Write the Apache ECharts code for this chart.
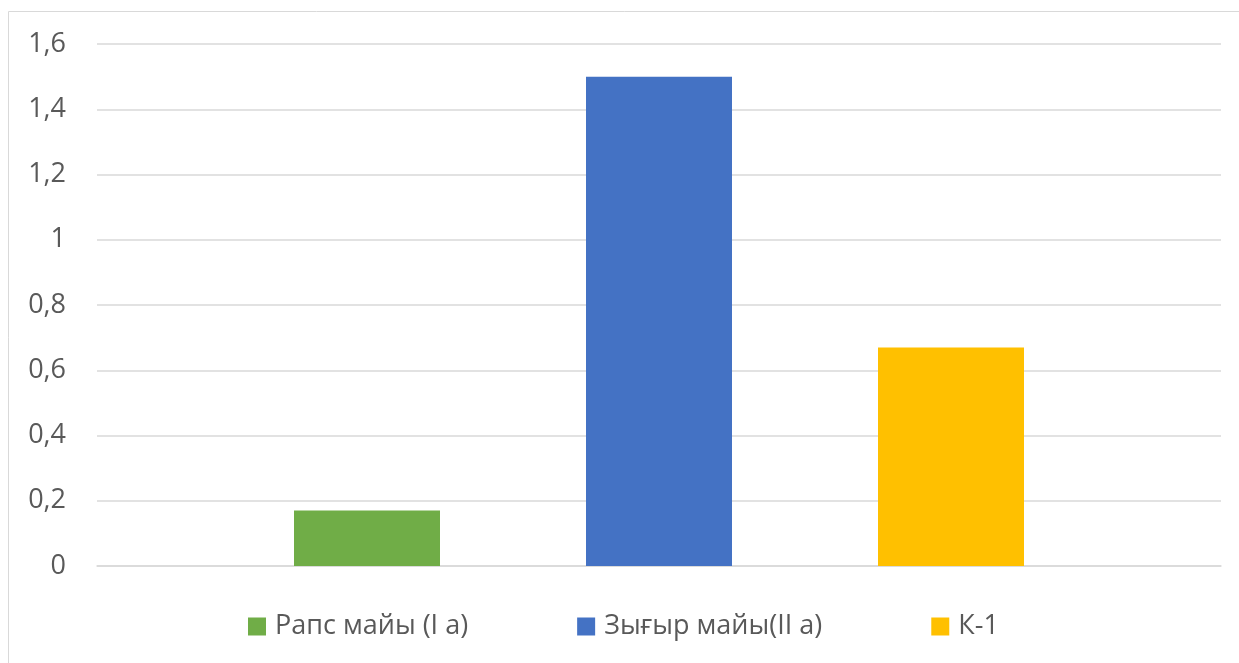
<!DOCTYPE html>
<html>
<head>
<meta charset="utf-8">
<script src="https://cdn.jsdelivr.net/npm/echarts@6/dist/echarts.min.js"></script>
<style>
  html, body { margin: 0; padding: 0; background: #fff; }
  #chart { width: 1239px; height: 663px; }
</style>
</head>
<body>
<div id="chart"></div>
<script>
  var seriesNames = ['Рапс майы (I а)', 'Зығыр майы(II а)', 'К-1'];
  var seriesValues = [0.17, 1.5, 0.67];
  var seriesColors = ['#70AD47', '#4472C4', '#FFC000'];
  var categories = [''];

  var chart = echarts.init(document.getElementById('chart'));

  var series = [];
  for (var i = 0; i < seriesNames.length; i++) {
    series.push({
      name: seriesNames[i],
      type: 'bar',
      data: [seriesValues[i]],
      barWidth: 146,
      barGap: '100%',
      itemStyle: { color: seriesColors[i] }
    });
  }

  chart.setOption({
    animation: false,
    textStyle: { fontFamily: 'Open Sans' },
    graphic: [{
      type: 'rect',
      shape: { x: 8.5, y: 11.5, width: 1300, height: 700 },
      style: { fill: 'none', stroke: '#d9d9d9', lineWidth: 1 },
      silent: true
    }],
    grid: { left: 97, right: 18, top: 44, bottom: 97 },
    legend: {
      left: 243,
      top: 608,
      icon: 'rect',
      itemWidth: 18,
      itemHeight: 18,
      itemGap: 109,
      textStyle: { color: '#595959', fontSize: 27, padding: [0, 0, 0, 4] },
      data: seriesNames
    },
    xAxis: {
      type: 'category',
      data: categories,
      axisLine: { show: true, lineStyle: { color: '#d9d9d9', width: 1.5 } },
      axisTick: { show: false },
      axisLabel: { show: false }
    },
    yAxis: {
      type: 'value',
      min: 0,
      max: 1.6,
      interval: 0.2,
      axisLine: { show: false },
      axisTick: { show: false },
      splitLine: { lineStyle: { color: '#d9d9d9', width: 1.5 } },
      axisLabel: {
        color: '#595959',
        fontSize: 27,
        margin: 31,
        formatter: function (v) {
          return String(Math.round(v * 10) / 10).replace('.', ',');
        }
      }
    },
    series: series
  });
</script>
</body>
</html>
